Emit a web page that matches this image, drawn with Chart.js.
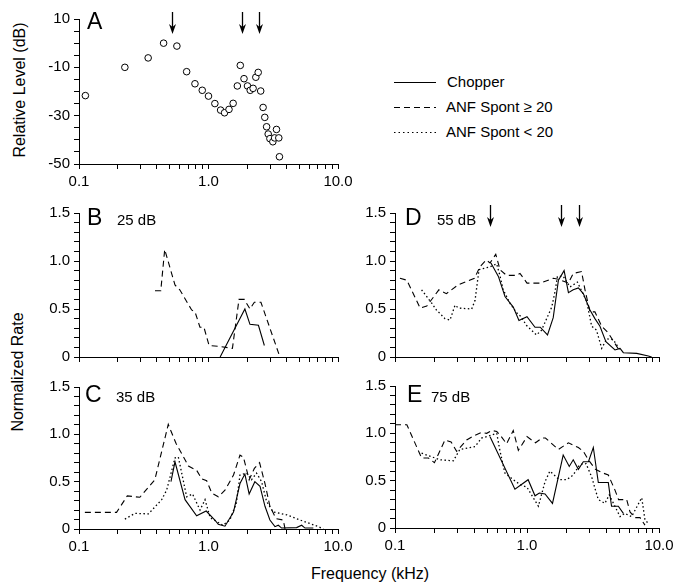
<!DOCTYPE html>
<html><head><meta charset="utf-8">
<script src="https://cdn.jsdelivr.net/npm/chart.js@4.4.1/dist/chart.umd.min.js"></script>
<style>
html,body{margin:0;padding:0;background:#fff;}
body{width:676px;height:586px;position:relative;overflow:hidden;font-family:"Liberation Sans",Arial,sans-serif;color:#000;}
canvas{position:absolute;}
.t{position:absolute;font-size:15px;white-space:nowrap;line-height:18px;}
.big{font-size:16px;}
.rot{transform:translate(-50%,-50%) rotate(-90deg);}
.ctr{transform:translate(-50%,-50%);}
</style></head><body>
<svg style="position:absolute;left:0;top:0" width="676" height="586">
  <line x1="394" y1="82.5" x2="436" y2="82.5" stroke="#000" stroke-width="1.1"/>
  <line x1="394" y1="107.5" x2="436" y2="107.5" stroke="#000" stroke-width="1.1" stroke-dasharray="6,4"/>
  <line x1="394" y1="132.5" x2="436" y2="132.5" stroke="#000" stroke-width="1.1" stroke-dasharray="1.5,3"/>
</svg>
<div class="t" style="left:447px;top:73px">Chopper</div>
<div class="t" style="left:446px;top:98px">ANF Spont ≥ 20</div>
<div class="t" style="left:446px;top:123px">ANF Spont &lt; 20</div>
<div class="t big rot" style="left:20px;top:90px">Relative Level (dB)</div>
<div class="t big rot" style="left:18px;top:372px">Normalized Rate</div>
<div class="t big ctr" style="left:370px;top:574px">Frequency (kHz)</div>
<script>
// ---------- DATA ----------
const levelFreq = [0.112,0.226,0.342,0.45,0.57,0.678,0.786,0.895,1.0,1.12,1.24,1.33,1.44,1.55,1.67,1.76,1.88,2.0,2.10,2.21,2.32,2.42,2.53,2.64,2.72,2.81,2.89,2.98,3.14,3.24,3.35,3.49,3.53];
const levelDb   = [-21.7,-10,-6.1,0,-1.2,-11.8,-16.8,-19.5,-21.9,-25.0,-27.7,-28.8,-27.4,-24.9,-17.7,-9.2,-14.7,-17.7,-19.5,-18.7,-14.1,-12.1,-19.8,-26.6,-30.7,-34.6,-37.6,-39.5,-40.8,-39.2,-35.7,-39.2,-47];
const arrowFreqs = [0.52, 1.82, 2.47];

const bDashFreq = [0.386,0.428,0.459,0.551,0.60,0.741,0.787,0.859,0.922,1.01,1.23,1.53,1.72,1.89,2.09,2.26,2.54,3.56];
const bDashRate = [0.69,0.69,1.12,0.75,0.70,0.49,0.47,0.31,0.31,0.12,0.11,0.09,0.60,0.60,0.50,0.57,0.57,0.0];
const bChopFreq = [1.23,1.91,2.09,2.43,2.70];
const bChopRate = [0.0,0.50,0.34,0.33,0.12];

const cDashFreq = [0.111,0.195,0.236,0.295,0.385,0.489,0.561,0.631,0.70,0.81,0.886,0.968,1.06,1.19,1.34,1.56,1.75,1.86,2.06,2.26,2.48,2.73,2.98,3.32,3.78,3.90];
const cDashRate = [0.176,0.176,0.35,0.335,0.52,1.105,0.905,0.78,0.665,0.62,0.53,0.51,0.38,0.34,0.41,0.57,0.78,0.76,0.52,0.64,0.70,0.48,0.24,0.11,0.095,0.0];
const cChopFreq = [0.513,0.551,0.659,0.81,0.96,1.12,1.19,1.34,1.56,1.75,1.91,2.06,2.28,2.50,2.73,2.98,3.26,3.46,3.67,4.79,5.24,5.56,6.45];
const cChopRate = [0.50,0.71,0.31,0.14,0.19,0.095,0.05,0.03,0.18,0.48,0.58,0.37,0.50,0.45,0.24,0.095,0.025,0.04,0.01,0.015,0.04,0.01,0.01];
const cDotFreq = [0.226,0.271,0.344,0.435,0.475,0.551,0.585,0.63,0.678,0.753,0.86,0.94,1.03,1.29,1.46,1.64,1.75,1.97,2.15,2.35,2.57,2.81,3.16,4.02,5.09,7.05,7.7];
const cDotRate = [0.105,0.165,0.16,0.31,0.41,0.75,0.76,0.55,0.34,0.37,0.20,0.31,0.12,0.04,0.095,0.27,0.57,0.59,0.52,0.59,0.50,0.29,0.18,0.15,0.095,0.025,0.0];

const dDashFreq = [0.109,0.123,0.155,0.174,0.215,0.245,0.30,0.40,0.44,0.49,0.525,0.58,0.624,0.70,0.835,0.885,1.0,1.26,1.58,1.73,2.06,2.24,2.59,2.75,3.0,3.27,3.68,4.13,4.64,5.07];
const dDashRate = [0.82,0.80,0.51,0.53,0.70,0.66,0.75,0.82,0.94,1.01,0.98,1.07,0.91,0.85,0.85,0.87,0.77,0.77,0.82,0.81,0.77,0.87,0.89,0.70,0.47,0.47,0.32,0.25,0.14,0.055];
const dChopFreq = [0.533,0.607,0.681,0.787,0.869,1.0,1.15,1.26,1.43,1.58,1.73,1.91,2.06,2.24,2.45,2.67,3.0,3.27,3.57,3.96,4.64,5.07,5.37,6.78,8.3,8.8];
const dChopRate = [0.98,0.84,0.63,0.52,0.38,0.42,0.31,0.31,0.23,0.41,0.80,0.90,0.67,0.70,0.72,0.66,0.49,0.40,0.32,0.16,0.073,0.09,0.045,0.038,0.01,0.0];
const dDotFreq = [0.159,0.19,0.206,0.239,0.261,0.285,0.302,0.381,0.404,0.433,0.525,0.589,0.623,0.66,0.743,0.835,0.9,0.99,1.18,1.29,1.54,1.63,1.7,1.88,2.12,2.41,2.83,3.09,3.36,3.68,4.02,4.51,5.07];
const dDotRate = [0.70,0.56,0.49,0.40,0.385,0.54,0.51,0.50,0.59,0.91,0.94,0.97,0.85,0.70,0.56,0.46,0.42,0.33,0.23,0.28,0.52,0.68,0.84,0.84,0.73,0.78,0.58,0.32,0.28,0.09,0.19,0.18,0.073];

const eDashFreq = [0.1,0.123,0.159,0.179,0.199,0.239,0.266,0.293,0.349,0.404,0.453,0.495,0.54,0.59,0.643,0.70,0.787,0.86,1.0,1.16,1.30,1.38,1.73,2.06,2.45,2.67,2.92,3.3,3.78,4.13,4.64,4.94,5.69,6.03,6.58,7.18,7.83];
const eDashRate = [1.09,1.09,0.74,0.74,0.69,0.93,0.91,0.81,0.93,0.98,1.01,1.0,1.03,1.02,0.96,0.89,1.03,0.82,0.965,0.90,0.95,0.95,0.83,0.90,0.85,0.81,0.72,0.62,0.58,0.56,0.40,0.30,0.30,0.17,0.11,0.11,0.03];
const eChopFreq = [0.525,0.81,1.02,1.15,1.24,1.37,1.56,1.88,2.09,2.24,2.45,2.67,2.92,3.18,3.47,4.13,4.37,4.92,5.37];
const eChopRate = [0.965,0.41,0.51,0.34,0.37,0.36,0.26,0.77,0.65,0.72,0.62,0.70,0.70,0.85,0.48,0.48,0.23,0.23,0.155];
const eDotFreq = [0.159,0.22,0.277,0.31,0.404,0.453,0.51,0.59,0.623,0.68,0.787,0.885,1.0,1.22,1.37,1.49,1.76,2.0,2.24,2.51,2.8,3.09,3.27,3.47,3.89,4.2,5.07,5.5,6.2,7.4,7.83,8.3];
const eDotRate = [0.79,0.72,0.71,0.83,0.86,0.95,0.97,1.0,0.82,0.58,0.51,0.46,0.43,0.23,0.49,0.60,0.51,0.51,0.56,0.67,0.68,0.54,0.42,0.30,0.26,0.35,0.12,0.155,0.12,0.32,0.085,0.05];

const freqTicks = [0.1,0.2,0.3,0.4,0.5,0.6,0.7,0.8,0.9,1,2,3,4,5,6,7,8,9,10];
const freqTickLabels = ['0.1','','','','','','','','','1.0','','','','','','','','','10.0'];
const dbTicks = [-50,-45,-40,-35,-30,-25,-20,-15,-10,-5,0,5,10];
const dbTickLabels = ['-50','','','','-30','','','','-10','','','','10'];
const rateTicks = [0,0.1,0.2,0.3,0.4,0.5,0.6,0.7,0.8,0.9,1.0,1.1,1.2,1.3,1.4,1.5];
const rateTickLabels = ['0','','','','','0.5','','','','','1.0','','','','','1.5'];

// ---------- RENDERING ----------
const FONT = '"Liberation Sans", Arial, sans-serif';
Chart.defaults.font.family = FONT;
Chart.defaults.font.size = 15;
Chart.defaults.color = '#000';

const pts = (xs, ys) => xs.map((x, i) => ({x: x, y: ys[i]}));

const panelText = {
  id: 'panelText',
  afterDraw(chart, args, o) {
    if (!o || !o.letter) return;
    const ctx = chart.ctx, ca = chart.chartArea;
    ctx.save();
    ctx.fillStyle = '#000';
    ctx.textBaseline = 'alphabetic';
    ctx.font = '23px ' + FONT;
    ctx.fillText(o.letter, ca.left + o.dx, ca.top + o.dy);
    if (o.level) {
      ctx.font = '15px ' + FONT;
      ctx.fillText(o.level, ca.left + o.lx, ca.top + o.dy);
    }
    ctx.restore();
  }
};
const arrowMarks = {
  id: 'arrowMarks',
  afterDraw(chart, args, o) {
    if (!o || !o.freqs) return;
    const ctx = chart.ctx, ca = chart.chartArea, xs = chart.scales.x;
    ctx.save();
    ctx.strokeStyle = '#000'; ctx.fillStyle = '#000'; ctx.lineWidth = 1.3;
    o.freqs.forEach(f => {
      const px = Math.round(xs.getPixelForValue(f)) + 0.5;
      const y0 = ca.top + o.y0, y1 = ca.top + o.y1;
      ctx.beginPath(); ctx.moveTo(px, y0); ctx.lineTo(px, y1 - 6); ctx.stroke();
      ctx.beginPath(); ctx.moveTo(px, y1); ctx.lineTo(px - 3.5, y1 - 10); ctx.lineTo(px, y1 - 7); ctx.lineTo(px + 3.5, y1 - 10); ctx.closePath(); ctx.fill();
    });
    ctx.restore();
  }
};
Chart.register(panelText, arrowMarks);

function lineDs(data, kind) {
  const ds = {data: data, borderColor: '#000', borderWidth: 1.1, pointRadius: 0, fill: false, tension: 0};
  if (kind === 'dash') ds.borderDash = [6, 4];
  if (kind === 'dot') { ds.borderDash = [1.5, 2.5]; ds.borderWidth = 1.3; }
  return ds;
}

function makePanel(p) {
  const ML = 46, MR = 22, MT = 14, MB = 30;
  const a = p.area;
  const w = a[2] - a[0] + ML + MR, h = a[3] - a[1] + MT + MB;
  const c = document.createElement('canvas');
  c.width = w; c.height = h;
  c.style.left = (a[0] - ML) + 'px'; c.style.top = (a[1] - MT) + 'px';
  c.style.width = w + 'px'; c.style.height = h + 'px';
  document.body.appendChild(c);
  const axisGrid = {drawOnChartArea: false, drawTicks: true, tickLength: 5, color: '#000', lineWidth: 1};
  new Chart(c, {
    type: 'line',
    data: {datasets: p.datasets},
    options: {
      responsive: false, animation: false, devicePixelRatio: 1,
      layout: {padding: {top: MT, right: MR, left: 0, bottom: 0}},
      plugins: {legend: {display: false}, tooltip: {enabled: false},
        panelText: p.text || {}, arrowMarks: p.arrows || {}},
      scales: {
        x: {
          type: 'logarithmic', min: 0.1, max: 10,
          afterBuildTicks: s => { s.ticks = freqTicks.map(v => ({value: v})); },
          afterFit: s => { s.height = MB; },
          ticks: {display: p.xLabels, autoSkip: false, maxRotation: 0, padding: 4,
            callback: (v, i) => freqTickLabels[i]},
          grid: axisGrid, border: {display: true, color: '#000', width: 1}
        },
        y: {
          type: 'linear', min: p.yTicks[0], max: p.yTicks[p.yTicks.length - 1],
          afterBuildTicks: s => { s.ticks = p.yTicks.map(v => ({value: v})); },
          afterFit: s => { s.width = ML; },
          ticks: {autoSkip: false, padding: 4, callback: (v, i) => p.yLabels[i]},
          grid: axisGrid, border: {display: true, color: '#000', width: 1}
        }
      }
    }
  });
}

makePanel({
  area: [79, 19, 338, 164], xLabels: true, yTicks: dbTicks, yLabels: dbTickLabels,
  datasets: [{data: pts(levelFreq, levelDb), showLine: false, pointRadius: 3.3, pointBorderWidth: 1,
    pointBorderColor: '#000', pointBackgroundColor: '#fff', borderColor: '#000'}],
  text: {letter: 'A', dx: 8, dy: 10},
  arrows: {freqs: arrowFreqs, y0: -7, y1: 15}
});
makePanel({
  area: [79, 213, 338, 357], xLabels: false, yTicks: rateTicks, yLabels: rateTickLabels,
  datasets: [lineDs(pts(bChopFreq, bChopRate), 'solid'), lineDs(pts(bDashFreq, bDashRate), 'dash')],
  text: {letter: 'B', dx: 8, dy: 12, level: '25 dB', lx: 38}
});
makePanel({
  area: [79, 387, 338, 529], xLabels: true, yTicks: rateTicks, yLabels: rateTickLabels,
  datasets: [lineDs(pts(cChopFreq, cChopRate), 'solid'), lineDs(pts(cDashFreq, cDashRate), 'dash'), lineDs(pts(cDotFreq, cDotRate), 'dot')],
  text: {letter: 'C', dx: 6, dy: 15, level: '35 dB', lx: 37}
});
makePanel({
  area: [395, 213, 659, 357], xLabels: false, yTicks: rateTicks, yLabels: rateTickLabels,
  datasets: [lineDs(pts(dChopFreq, dChopRate), 'solid'), lineDs(pts(dDashFreq, dDashRate), 'dash'), lineDs(pts(dDotFreq, dDotRate), 'dot')],
  text: {letter: 'D', dx: 10, dy: 12, level: '55 dB', lx: 42},
  arrows: {freqs: arrowFreqs, y0: -8, y1: 14}
});
makePanel({
  area: [395, 386, 659, 528], xLabels: true, yTicks: rateTicks, yLabels: rateTickLabels,
  datasets: [lineDs(pts(eChopFreq, eChopRate), 'solid'), lineDs(pts(eDashFreq, eDashRate), 'dash'), lineDs(pts(eDotFreq, eDotRate), 'dot')],
  text: {letter: 'E', dx: 12, dy: 16, level: '75 dB', lx: 36}
});
</script>
</body></html>
